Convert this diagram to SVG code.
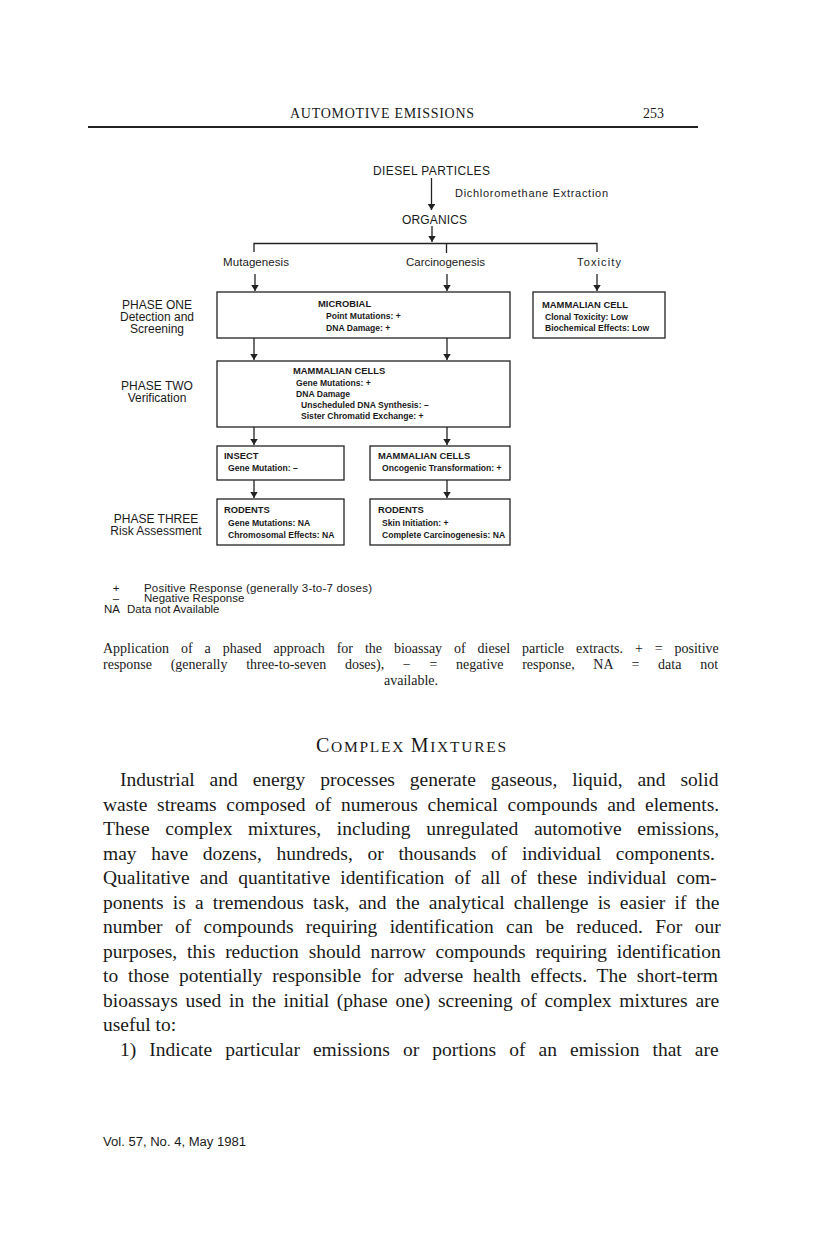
<svg xmlns="http://www.w3.org/2000/svg" width="816" height="1247" viewBox="0 0 816 1247">
<style>
.sans{font-family:"Liberation Sans",Arial,sans-serif;fill:#1a1a1a}
.serif{font-family:"Liberation Serif","Times New Roman",serif;fill:#1a1a1a}
.lbl{font-size:12px}
.box{fill:none;stroke:#222;stroke-width:1.3}
.bt{font-family:"Liberation Sans",Arial,sans-serif;font-weight:bold;font-size:8.6px;fill:#1a1a1a}
.btt{font-family:"Liberation Sans",Arial,sans-serif;font-weight:bold;font-size:9.4px;fill:#1a1a1a}
.ph{font-family:"Liberation Sans",Arial,sans-serif;font-size:12px;fill:#1a1a1a;text-anchor:middle}
.body{font-size:19.5px}
.cap{font-size:14px}
.lg{font-size:11.5px}
.ln{stroke:#222;stroke-width:1.3;fill:none}
</style>
<defs>
<marker id="ah" viewBox="0 0 8 10" refX="8" refY="5" markerWidth="6" markerHeight="7.5" markerUnits="userSpaceOnUse" orient="auto">
<path d="M0,0 L8,5 L0,10 Z" fill="#222"/>
</marker>
</defs>
<rect width="816" height="1247" fill="#fff"/>

<g id="header">
<text class="serif" x="290" y="118" font-size="14" textLength="184" lengthAdjust="spacing">AUTOMOTIVE EMISSIONS</text>
<text class="serif" x="643" y="118" font-size="14">253</text>
<line x1="88" y1="127" x2="698" y2="127" stroke="#222" stroke-width="2"/>
</g>

<g id="connectors">
<line class="ln" x1="431.5" y1="178" x2="431.5" y2="210" marker-end="url(#ah)"/>
<line class="ln" x1="432" y1="226" x2="432" y2="242" marker-end="url(#ah)"/>
<polyline class="ln" points="254,252 254,243.5 597,243.5 597,252"/>
<line class="ln" x1="446.5" y1="243.5" x2="446.5" y2="253"/>
<line class="ln" x1="255" y1="274" x2="255" y2="291" marker-end="url(#ah)"/>
<line class="ln" x1="447" y1="274" x2="447" y2="291" marker-end="url(#ah)"/>
<line class="ln" x1="597" y1="274" x2="597" y2="291" marker-end="url(#ah)"/>
<line class="ln" x1="254" y1="338" x2="254" y2="360" marker-end="url(#ah)"/>
<line class="ln" x1="447" y1="338" x2="447" y2="360" marker-end="url(#ah)"/>
<line class="ln" x1="254" y1="427" x2="254" y2="445" marker-end="url(#ah)"/>
<line class="ln" x1="447" y1="427" x2="447" y2="445" marker-end="url(#ah)"/>
<line class="ln" x1="254" y1="480" x2="254" y2="498" marker-end="url(#ah)"/>
<line class="ln" x1="447" y1="480" x2="447" y2="498" marker-end="url(#ah)"/>
</g>

<g id="diesel">
<text class="sans lbl" x="373" y="175" textLength="117" lengthAdjust="spacing">DIESEL PARTICLES</text>
</g>
<g id="extraction">
<text class="sans" x="455" y="197" font-size="11" textLength="153" lengthAdjust="spacing">Dichloromethane Extraction</text>
</g>
<g id="organics">
<text class="sans lbl" x="402" y="224" textLength="65" lengthAdjust="spacing">ORGANICS</text>
</g>
<g id="mutagenesis">
<text class="sans" x="223" y="266" font-size="11.5" textLength="66" lengthAdjust="spacing">Mutagenesis</text>
</g>
<g id="carcinogenesis">
<text class="sans" x="406" y="266" font-size="11.5" textLength="79" lengthAdjust="spacing">Carcinogenesis</text>
</g>
<g id="toxicity">
<text class="sans" x="577" y="266" font-size="11" textLength="44" lengthAdjust="spacing">Toxicity</text>
</g>

<g id="phase1">
<text class="ph" x="157" y="309">PHASE ONE</text>
<text class="ph" x="157" y="321">Detection and</text>
<text class="ph" x="157" y="333">Screening</text>
</g>
<g id="phase2">
<text class="ph" x="157" y="390">PHASE TWO</text>
<text class="ph" x="157" y="402">Verification</text>
</g>
<g id="phase3">
<text class="ph" x="156" y="523">PHASE THREE</text>
<text class="ph" x="156" y="535">Risk Assessment</text>
</g>

<g id="microbial">
<rect class="box" x="217" y="292" width="293" height="46"/>
<text class="btt" x="318" y="307">MICROBIAL</text>
<text class="bt" x="326" y="319">Point Mutations: +</text>
<text class="bt" x="326" y="330.5">DNA Damage: +</text>
</g>

<g id="mammalian-cell">
<rect class="box" x="533" y="292" width="132" height="46"/>
<text class="btt" x="542" y="307.5">MAMMALIAN CELL</text>
<text class="bt" x="545" y="319.5">Clonal Toxicity: Low</text>
<text class="bt" x="545" y="331">Biochemical Effects: Low</text>
</g>

<g id="mammalian-cells">
<rect class="box" x="217" y="361" width="293" height="66"/>
<text class="btt" x="293" y="374">MAMMALIAN CELLS</text>
<text class="bt" x="296" y="386">Gene Mutations: +</text>
<text class="bt" x="296" y="396.5">DNA Damage</text>
<text class="bt" x="301" y="407.5">Unscheduled DNA Synthesis: –</text>
<text class="bt" x="301" y="418.5">Sister Chromatid Exchange: +</text>
</g>

<g id="insect">
<rect class="box" x="217" y="446" width="127" height="34"/>
<text class="btt" x="224" y="459">INSECT</text>
<text class="bt" x="228" y="471">Gene Mutation: –</text>
</g>

<g id="mammalian-cells-2">
<rect class="box" x="370" y="446" width="140" height="34"/>
<text class="btt" x="378" y="459">MAMMALIAN CELLS</text>
<text class="bt" x="382" y="471">Oncogenic Transformation: +</text>
</g>

<g id="rodents-1">
<rect class="box" x="217" y="499" width="127" height="46"/>
<text class="btt" x="224" y="513">RODENTS</text>
<text class="bt" x="228" y="525.5">Gene Mutations: NA</text>
<text class="bt" x="228" y="537.5">Chromosomal Effects: NA</text>
</g>

<g id="rodents-2">
<rect class="box" x="370" y="499" width="140" height="46"/>
<text class="btt" x="378" y="513">RODENTS</text>
<text class="bt" x="382" y="525.5">Skin Initiation: +</text>
<text class="bt" x="382" y="537.5">Complete Carcinogenesis: NA</text>
</g>

<g id="legend">
<text class="sans lg" x="116" y="592" text-anchor="middle">+</text>
<text class="sans lg" x="144" y="592" textLength="228" lengthAdjust="spacing">Positive Response (generally 3-to-7 doses)</text>
<text class="sans lg" x="116" y="602" text-anchor="middle">–</text>
<text class="sans lg" x="144" y="602">Negative Response</text>
<text class="sans lg" x="104" y="613">NA</text>
<text class="sans lg" x="127" y="613">Data not Available</text>
</g>

<g id="caption">
<text class="serif cap" x="103" y="653" word-spacing="8.4">Application of a phased approach for the bioassay of diesel particle extracts. + = positive</text>
<text class="serif cap" x="103" y="669" word-spacing="15.2">response (generally three-to-seven doses), − = negative response, NA = data not</text>
<text class="serif cap" x="411" y="685" text-anchor="middle">available.</text>
</g>

<g id="body">
<text class="serif" x="316" y="752" font-size="15.5" textLength="190" lengthAdjust="spacing"><tspan font-size="20">C</tspan>OMPLEX <tspan font-size="20">M</tspan>IXTURES</text>
<text class="serif body" x="120" y="786" word-spacing="10">Industrial and energy processes generate gaseous, liquid, and solid</text>
<text class="serif body" x="103" y="810.5" word-spacing="4.8">waste streams composed of numerous chemical compounds and elements.</text>
<text class="serif body" x="103" y="835" word-spacing="10.8">These complex mixtures, including unregulated automotive emissions,</text>
<text class="serif body" x="103" y="859.5" word-spacing="9.8">may have dozens, hundreds, or thousands of individual components.</text>
<text class="serif body" x="103" y="884" word-spacing="5.3">Qualitative and quantitative identification of all of these individual com-</text>
<text class="serif body" x="103" y="908.5" word-spacing="4.3">ponents is a tremendous task, and the analytical challenge is easier if the</text>
<text class="serif body" x="103" y="933" word-spacing="7.5">number of compounds requiring identification can be reduced. For our</text>
<text class="serif body" x="103" y="957.5" word-spacing="5">purposes, this reduction should narrow compounds requiring identification</text>
<text class="serif body" x="103" y="982" word-spacing="5">to those potentially responsible for adverse health effects. The short-term</text>
<text class="serif body" x="103" y="1006.5" word-spacing="2.9">bioassays used in the initial (phase one) screening of complex mixtures are</text>
<text class="serif body" x="103" y="1031">useful to:</text>
<text class="serif body" x="120" y="1055.5" word-spacing="8.2">1) Indicate particular emissions or portions of an emission that are</text>
</g>

<g id="footer">
<text class="sans" x="103" y="1146" font-size="12.5" textLength="143" lengthAdjust="spacingAndGlyphs">Vol. 57, No. 4, May 1981</text>
</g>
</svg>
